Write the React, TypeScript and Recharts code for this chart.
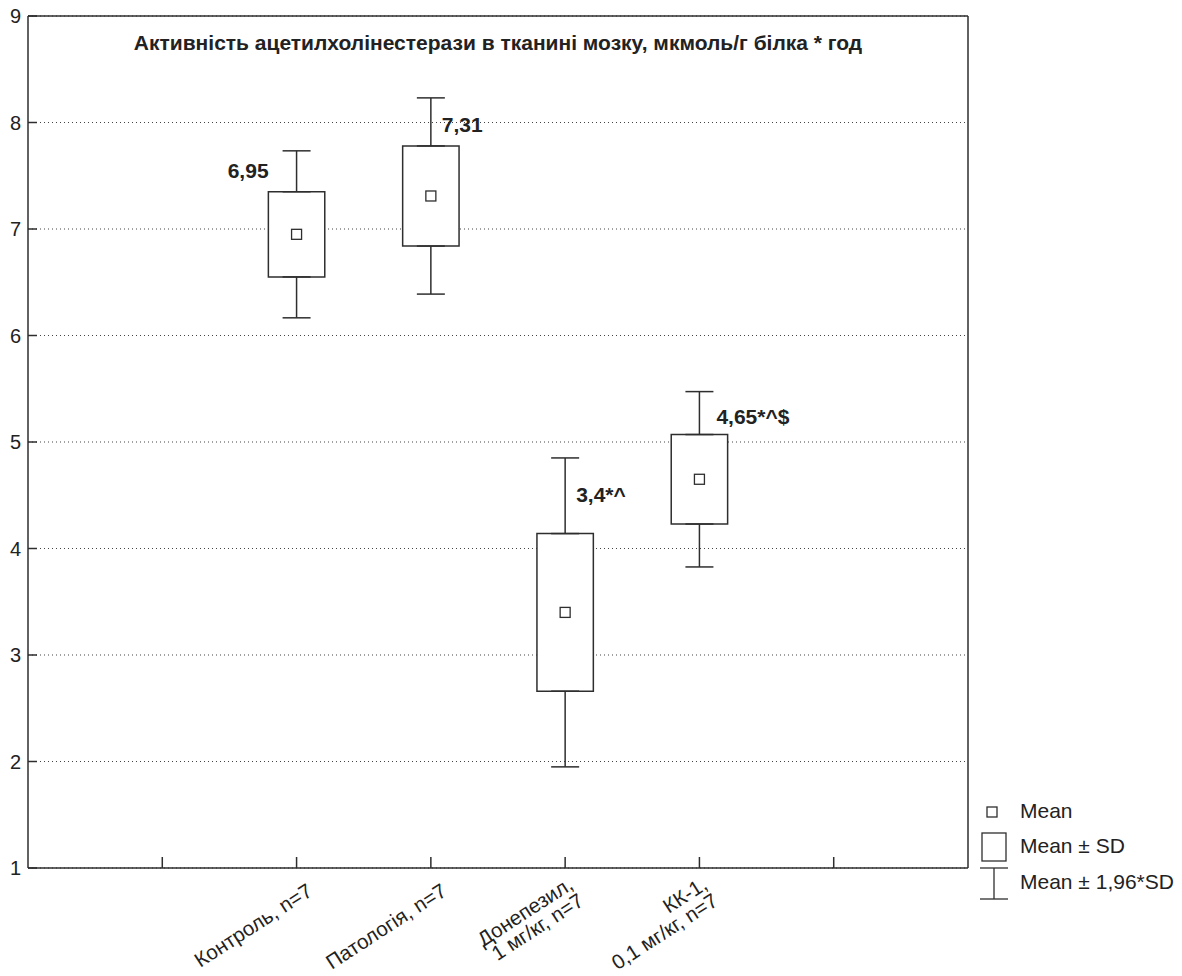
import React from 'react';
import { ComposedChart, Scatter, ErrorBar, XAxis, YAxis, CartesianGrid, ReferenceArea, Legend } from 'recharts';

const title = 'Активність ацетилхолінестерази в тканині мозку, мкмоль/г білка * год';
const groups = ['Контроль, n=7', 'Патологія, n=7', 'Донепезил,\n1 мг/кг, n=7', 'КК-1,\n0,1 мг/кг, n=7'];
const positions = [2, 3, 4, 5];
const means = [6.95, 7.31, 3.4, 4.65];
const sds = [0.4, 0.47, 0.74, 0.42];
const meanLabels = ['6,95', '7,31', '3,4*^', '4,65*^$'];
const yTicks = [1, 2, 3, 4, 5, 6, 7, 8, 9];
const xTicks = [1, 2, 3, 4, 5, 6];

// label placement relative to top of the SD box (px)
const labelOffsets = [
  { dx: -28, dy: -14, anchor: 'end' },
  { dx: 11, dy: -14, anchor: 'start' },
  { dx: 11, dy: -32, anchor: 'start' },
  { dx: 17, dy: -11, anchor: 'start' },
];

const FONT = '"Liberation Sans", Arial, Helvetica, sans-serif';
const INK = '#2e2e2e';
const BOX_HALF = 0.21;

const meanData = positions.map((x, i) => ({ x, y: means[i] }));
const upperWhisker = positions.map((x, i) => ({ x, y: means[i] + sds[i], err: [0, 0.96 * sds[i]], i }));
const lowerWhisker = positions.map((x, i) => ({ x, y: means[i] - sds[i], err: [0.96 * sds[i], 0], i }));

const GroupTick = (props: any) => {
  const { x, y, payload } = props;
  const i = positions.indexOf(payload.value);
  if (i < 0) return null;
  const lines = groups[i].split('\n');
  const lh = 19.5;
  return (
    <g transform={`translate(${x},${y}) rotate(-33)`}>
      {lines.map((l, k) => (
        <text
          key={k}
          x={lines.length > 1 ? -3 : 0}
          y={31.5 + (k - (lines.length - 1) / 2) * lh}
          textAnchor="end"
          fontFamily={FONT}
          fontSize={20.5}
          fill="#222"
        >
          {l}
        </text>
      ))}
    </g>
  );
};

const MeanLabel = (props: any) => {
  const { cx, cy, payload } = props;
  const o = labelOffsets[payload.i];
  return (
    <text x={cx + o.dx} y={cy + o.dy} textAnchor={o.anchor} fontFamily={FONT} fontSize={21} fontWeight="bold" fill="#222">
      {meanLabels[payload.i]}
    </text>
  );
};

const MeanMarker = (props: any) => (
  <rect x={props.cx - 5} y={props.cy - 5} width={10} height={10} fill="#fff" stroke={INK} strokeWidth={1.3} />
);

const LegendContent = () => (
  <svg width={210} height={105} style={{ display: 'block' }}>
    <rect x={12} y={7} width={10} height={10} fill="#fff" stroke={INK} strokeWidth={1.3} />
    <text x={45} y={18} fontFamily={FONT} fontSize={21} fill="#222">Mean</text>
    <rect x={7} y={33} width={24} height={28} fill="#fff" stroke={INK} strokeWidth={1.3} />
    <text x={45} y={53} fontFamily={FONT} fontSize={21} fill="#222">Mean ± SD</text>
    <line x1={5} y1={68} x2={33} y2={68} stroke={INK} strokeWidth={1.3} />
    <line x1={19} y1={68} x2={19} y2={99} stroke={INK} strokeWidth={1.3} />
    <line x1={5} y1={99} x2={33} y2={99} stroke={INK} strokeWidth={1.3} />
    <text x={45} y={89} fontFamily={FONT} fontSize={21} fill="#222">Mean ± 1,96*SD</text>
  </svg>
);

const axisLine = { stroke: INK, strokeWidth: 1.5 };

export default function App() {
  return (
    <div style={{ width: 1182, height: 976, background: '#fff' }}>
      <style>{'body{margin:0;background:#fff}'}</style>
      <ComposedChart width={1182} height={976} margin={{ top: 0, right: 0, bottom: 0, left: 0 }}>
        <CartesianGrid vertical={false} stroke="#444" strokeDasharray="1 3" strokeWidth={1.2} />
        <XAxis
          type="number"
          dataKey="x"
          domain={[0, 7]}
          ticks={xTicks}
          interval={0}
          height={108}
          axisLine={axisLine}
          tickLine={axisLine}
          tickSize={-11}
          tickMargin={11}
          tick={<GroupTick />}
        />
        <XAxis
          xAxisId="top"
          orientation="top"
          type="number"
          dataKey="x"
          domain={[0, 7]}
          ticks={xTicks}
          interval={0}
          height={16}
          axisLine={axisLine}
          tickLine={axisLine}
          tickSize={-11}
          tick={false}
          label={{ value: title, position: 'bottom', offset: 19, fontFamily: FONT, fontSize: 21, fontWeight: 'bold', fill: '#222' }}
        />
        <YAxis
          type="number"
          dataKey="y"
          domain={[1, 9]}
          ticks={yTicks}
          interval={0}
          width={28}
          axisLine={axisLine}
          tickLine={axisLine}
          tickSize={-9}
          tickMargin={16}
          tick={{ fontFamily: FONT, fontSize: 20, fill: '#222' }}
        />
        <YAxis
          yAxisId="right"
          orientation="right"
          type="number"
          dataKey="y"
          domain={[1, 9]}
          ticks={yTicks}
          interval={0}
          width={214}
          axisLine={axisLine}
          tickLine={axisLine}
          tickSize={-9}
          tick={false}
        />
        {positions.map((x, i) => (
          <ReferenceArea
            key={i}
            x1={x - BOX_HALF}
            x2={x + BOX_HALF}
            y1={means[i] - sds[i]}
            y2={means[i] + sds[i]}
            fill="#fff"
            fillOpacity={1}
            stroke={INK}
            strokeWidth={1.5}
          />
        ))}
        <Scatter data={lowerWhisker} isAnimationActive={false} shape={() => <g />}>
          <ErrorBar dataKey="err" direction="y" width={14} stroke={INK} strokeWidth={1.5} isAnimationActive={false} />
        </Scatter>
        <Scatter data={upperWhisker} isAnimationActive={false} shape={<MeanLabel />}>
          <ErrorBar dataKey="err" direction="y" width={14} stroke={INK} strokeWidth={1.5} isAnimationActive={false} />
        </Scatter>
        <Scatter data={meanData} isAnimationActive={false} shape={<MeanMarker />} />
        <Legend
          layout="vertical"
          align="center"
          verticalAlign="middle"
          content={<LegendContent />}
          wrapperStyle={{ left: 975, top: 800, width: 210 }}
        />
      </ComposedChart>
    </div>
  );
}
